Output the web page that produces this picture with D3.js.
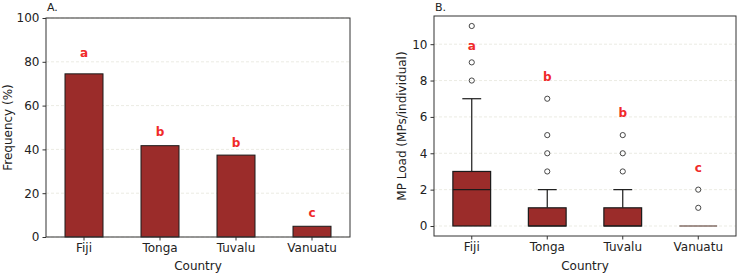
<!DOCTYPE html>
<html>
<head>
<meta charset="utf-8">
<script src="https://cdn.jsdelivr.net/npm/d3@7"></script>
<style>
  body { margin: 0; background: #fff; }
  text { font-family: "DejaVu Sans", sans-serif; fill: #222; }
</style>
</head>
<body>
<svg id="viz"></svg>
<script>
var width = 740;
var height = 273;

// data
var countries = ["Fiji", "Tonga", "Tuvalu", "Vanuatu"];
var frequency = [74.5, 41.7, 37.4, 4.9];
var freqLetters = ["a", "b", "b", "c"];
var freqLetterY = [84, 47.9, 42.9, 11];
var freqTicks = [0, 20, 40, 60, 80, 100];

// box stats: [whiskerLow, q1, median, q3, whiskerHigh]
var boxStats = [
    [0, 0, 2, 3, 7],
    [0, 0, 0, 1, 2],
    [0, 0, 0, 1, 2],
    [0, 0, 0, 0, 0]
];
var outliers = [
    [8, 9, 11],
    [3, 4, 5, 7],
    [3, 4, 5],
    [1, 2]
];
var loadLetters = ["a", "b", "b", "c"];
var loadLetterY = [9.9, 8.2, 6.2, 3.2];
var loadTicks = [0, 2, 4, 6, 8, 10];

var barColor = "#9b2c2a";
var letterColor = "#f02a2a";

var svg = d3.select("#viz")
    .attr("width", width)
    .attr("height", height);

function drawAxes(g, x0, x1, y0, y1, yScale, ticks, xScale) {
    // faint grid behind the marks
    g.selectAll(".grid").data(ticks).enter().append("line")
        .attr("x1", x0).attr("x2", x1)
        .attr("y1", function (d) { return yScale(d); })
        .attr("y2", function (d) { return yScale(d); })
        .style("stroke", "#e6e6dc")
        .style("stroke-width", 0.8)
        .style("stroke-dasharray", "3,2");

    var yAxis = d3.axisLeft(yScale).tickValues(ticks).tickSize(3.5).tickPadding(3);
    g.append("g").attr("transform", "translate(" + x0 + ",0)").call(yAxis)
        .call(function (a) {
            a.select(".domain").remove();
            a.selectAll("text").style("font-size", "12px");
            a.selectAll("line").style("stroke", "#333");
        });

    var xAxis = d3.axisBottom(xScale).tickSize(3.5).tickPadding(3);
    g.append("g").attr("transform", "translate(0," + y1 + ")").call(xAxis)
        .call(function (a) {
            a.select(".domain").remove();
            a.selectAll("text").style("font-size", "12px");
            a.selectAll("line").style("stroke", "#333");
        });
}

function drawFrame(g, x0, x1, y0, y1) {
    g.append("rect")
        .attr("x", x0).attr("y", y0)
        .attr("width", x1 - x0).attr("height", y1 - y0)
        .style("fill", "none")
        .style("stroke", "#333")
        .style("stroke-width", 1);
}

// ---------- Panel A ----------
var a = svg.append("g");
var ax0 = 46, ax1 = 350, ay0 = 18, ay1 = 237;

var xA = d3.scaleBand().domain(countries).range([ax0, ax1]);
var yA = d3.scaleLinear().domain([0, 100]).range([ay1, ay0]);

drawAxes(a, ax0, ax1, ay0, ay1, yA, freqTicks, xA);

a.selectAll(".bar").data(frequency).enter().append("rect")
    .attr("x", function (d, i) { return xA(countries[i]) + xA.bandwidth() * 0.25; })
    .attr("width", xA.bandwidth() * 0.5)
    .attr("y", function (d) { return yA(d); })
    .attr("height", function (d) { return yA(0) - yA(d); })
    .style("fill", barColor)
    .style("stroke", "#1a1a1a")
    .style("stroke-width", 1);

drawFrame(a, ax0, ax1, ay0, ay1);

a.selectAll(".letter").data(freqLetters).enter().append("text")
    .attr("x", function (d, i) { return xA(countries[i]) + xA.bandwidth() / 2; })
    .attr("y", function (d, i) { return yA(freqLetterY[i]); })
    .attr("dy", "0.35em")
    .attr("text-anchor", "middle")
    .style("font-size", "12px")
    .style("font-weight", "bold")
    .style("fill", letterColor)
    .text(function (d) { return d; });

a.append("text").attr("x", 47).attr("y", 11).style("font-size", "11px").text("A.");
a.append("text")
    .attr("x", (ax0 + ax1) / 2).attr("y", 270)
    .attr("text-anchor", "middle").style("font-size", "12px").text("Country");
a.append("text")
    .attr("transform", "translate(12," + (ay0 + ay1) / 2 + ") rotate(-90)")
    .attr("text-anchor", "middle").style("font-size", "12px").text("Frequency (%)");

// ---------- Panel B ----------
var b = svg.append("g");
var bx0 = 434, bx1 = 736, by0 = 16, by1 = 236;

var xB = d3.scaleBand().domain(countries).range([bx0, bx1]);
var yB = d3.scaleLinear().domain([-0.55, 11.55]).range([by1, by0]);

drawAxes(b, bx0, bx1, by0, by1, yB, loadTicks, xB);

var boxes = b.selectAll(".box").data(boxStats).enter().append("g");

boxes.each(function (s, i) {
    var g = d3.select(this);
    var cx = xB(countries[i]) + xB.bandwidth() / 2;
    var bw = xB.bandwidth() * 0.5;

    // whiskers
    g.append("line").attr("x1", cx).attr("x2", cx)
        .attr("y1", yB(s[3])).attr("y2", yB(s[4]))
        .style("stroke", "#1a1a1a").style("stroke-width", 1.2);
    g.append("line").attr("x1", cx).attr("x2", cx)
        .attr("y1", yB(s[1])).attr("y2", yB(s[0]))
        .style("stroke", "#1a1a1a").style("stroke-width", 1.2);
    if (s[4] > s[3]) {
        g.append("line").attr("x1", cx - bw / 4).attr("x2", cx + bw / 4)
            .attr("y1", yB(s[4])).attr("y2", yB(s[4]))
            .style("stroke", "#1a1a1a").style("stroke-width", 1.2);
    }

    // box
    g.append("rect")
        .attr("x", cx - bw / 2).attr("width", bw)
        .attr("y", yB(s[3])).attr("height", yB(s[1]) - yB(s[3]))
        .style("fill", barColor)
        .style("stroke", "#1a1a1a")
        .style("stroke-width", 1.2);

    // median
    g.append("line").attr("x1", cx - bw / 2).attr("x2", cx + bw / 2)
        .attr("y1", yB(s[2])).attr("y2", yB(s[2]))
        .style("stroke", s[3] === s[1] ? "#4a2a20" : "#1a1a1a")
        .style("stroke-width", 1.2);

    // outliers
    g.selectAll("circle").data(outliers[i]).enter().append("circle")
        .attr("cx", cx)
        .attr("cy", function (d) { return yB(d); })
        .attr("r", 2.6)
        .style("fill", "none")
        .style("stroke", "#333")
        .style("stroke-width", 0.9);
});

drawFrame(b, bx0, bx1, by0, by1);

b.selectAll(".letter").data(loadLetters).enter().append("text")
    .attr("x", function (d, i) { return xB(countries[i]) + xB.bandwidth() / 2; })
    .attr("y", function (d, i) { return yB(loadLetterY[i]); })
    .attr("dy", "0.35em")
    .attr("text-anchor", "middle")
    .style("font-size", "12px")
    .style("font-weight", "bold")
    .style("fill", letterColor)
    .text(function (d) { return d; });

b.append("text").attr("x", 435).attr("y", 11).style("font-size", "11px").text("B.");
b.append("text")
    .attr("x", (bx0 + bx1) / 2).attr("y", 270)
    .attr("text-anchor", "middle").style("font-size", "12px").text("Country");
b.append("text")
    .attr("transform", "translate(406," + (by0 + by1) / 2 + ") rotate(-90)")
    .attr("text-anchor", "middle").style("font-size", "12px").text("MP Load (MPs/individual)");
</script>
</body>
</html>
